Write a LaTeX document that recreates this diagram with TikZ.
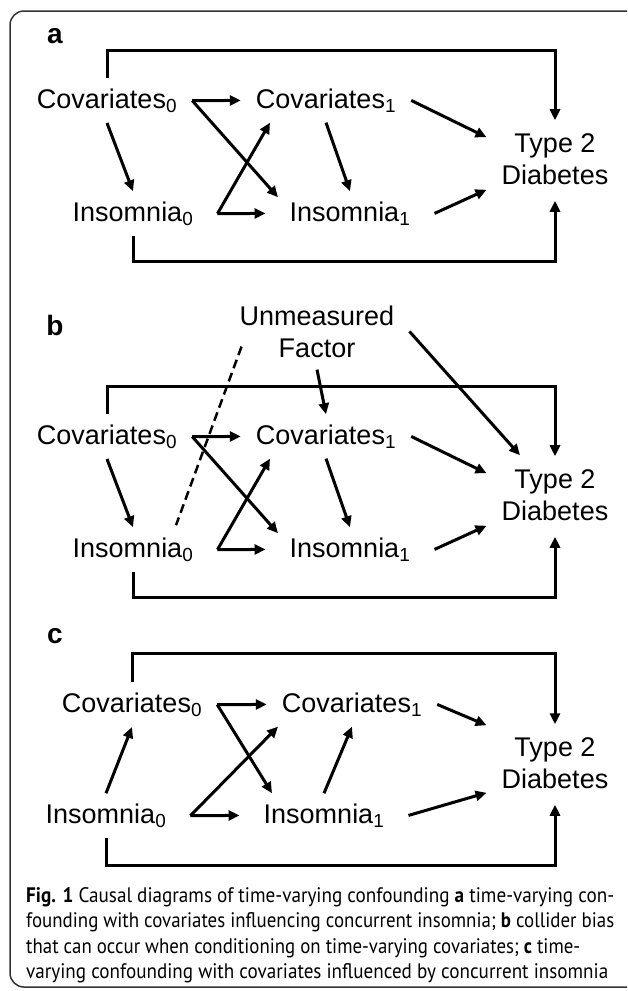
\documentclass[tikz,border=0pt]{standalone}
\usepackage{fontspec}
\setmainfont{Liberation Sans}
\newfontfamily\capfont{PT Sans}
\usepackage{graphicx}
\usetikzlibrary{calc}
\usetikzlibrary{arrows.meta}

\begin{document}
\begin{tikzpicture}[x=1pt,y=-1pt,
		lbl/.style={font=\fontsize{27}{32}\selectfont, inner xsep=15pt, inner ysep=10pt, anchor=base},
		ins/.style={lbl, inner xsep=24pt},
		outc/.style={font=\fontsize{27}{32}\selectfont, align=center, inner xsep=15pt, inner ysep=0pt},
		panel/.style={font=\fontsize{28}{28}\selectfont\bfseries, anchor=base, inner sep=0pt},
		arr/.style={line width=3pt, -{Triangle[length=11pt,width=10pt]}},
		capline/.style={anchor=base west, inner sep=0pt, font=\capfont\fontsize{21}{25}\selectfont}]
			\useasboundingbox (0,0) rectangle (627,991);
			\clip (0,0) rectangle (627,991);
			\draw[line width=1.5pt, black!80, rounded corners=14pt] (10,11) rectangle (660,987);

			% a
			\node[panel] (pa) at (55,43) {a};
			\node[lbl] (cov0a) at (107,108) {Covariates\textsubscript{0}};
			\node[lbl] (cov1a) at (326,108) {Covariates\textsubscript{1}};
			\node[ins] (ins0a) at (133,221) {Insomnia\textsubscript{0}};
			\node[ins] (ins1a) at (350,221) {Insomnia\textsubscript{1}};
			\node[outc] (t2da) at (555,159) {Type 2\\Diabetes};

			\draw[arr, shorten >=13pt] (cov0a.north) -- ++(0,-28) -| (t2da.north);
			\draw[arr, shorten >=16pt] (ins0a.south) -- ++(0,25) -| (t2da.south);
			\draw[arr] (cov0a.east) -- (cov1a.west);
			\draw[arr] (cov0a.east) -- ($(ins1a.north)+(-72,6)$);
			\draw[arr] (cov0a.south) -- (ins0a.north);
			\draw[arr] (ins0a.east) -- ($(cov1a.south)+(-56,0)$);
			\draw[arr] (ins0a.east) -- (ins1a.west);
			\draw[arr] (cov1a.south) -- (ins1a.north);
			\draw[arr] (cov1a.east) -- ($(t2da.north west)+(0,4)$);
			\draw[arr] (ins1a.east) -- ($(t2da.south west)+(0,5)$);

			% b
			\node[panel] (pb) at (55,335) {b};
			\node[outc, inner ysep=12pt] (unm) at (317,331.5) {Unmeasured\\Factor};
			\node[lbl] (cov0b) at (107,444) {Covariates\textsubscript{0}};
			\node[lbl] (cov1b) at (326,444) {Covariates\textsubscript{1}};
			\node[ins] (ins0b) at (133,557) {Insomnia\textsubscript{0}};
			\node[ins] (ins1b) at (350,557) {Insomnia\textsubscript{1}};
			\node[outc] (t2db) at (555,495) {Type 2\\Diabetes};

			\draw[line width=2.5pt, dash pattern=on 9pt off 5pt] ($(unm.south west)+(17,-23)$) -- ($(ins0b.north)+(43,-2)$);
			\draw[arr] (unm.south) -- (cov1b.north);
			\draw[arr] (unm.east) -- ($(t2db.north)+(-35,-14)$);
			\draw[arr, shorten >=13pt] (cov0b.north) -- ++(0,-28) -| (t2db.north);
			\draw[arr, shorten >=16pt] (ins0b.south) -- ++(0,25) -| (t2db.south);
			\draw[arr] (cov0b.east) -- (cov1b.west);
			\draw[arr] (cov0b.east) -- ($(ins1b.north)+(-72,6)$);
			\draw[arr] (cov0b.south) -- (ins0b.north);
			\draw[arr] (ins0b.east) -- ($(cov1b.south)+(-56,0)$);
			\draw[arr] (ins0b.east) -- (ins1b.west);
			\draw[arr] (cov1b.south) -- (ins1b.north);
			\draw[arr] (cov1b.east) -- ($(t2db.north west)+(0,4)$);
			\draw[arr] (ins1b.east) -- ($(t2db.south west)+(0,5)$);

			% c
			\node[panel] (pc) at (55,643) {c};
			\node[lbl] (cov0c) at (132,712) {Covariates\textsubscript{0}};
			\node[lbl] (cov1c) at (352,712) {Covariates\textsubscript{1}};
			\node[ins] (ins0c) at (106,823) {Insomnia\textsubscript{0}};
			\node[ins] (ins1c) at (324,823) {Insomnia\textsubscript{1}};
			\node[outc] (t2dc) at (555,763) {Type 2\\Diabetes};

			\draw[arr, shorten >=13pt] (cov0c.north) -- ++(0,-29) -| (t2dc.north);
			\draw[arr, shorten >=16pt] (ins0c.south) -- ++(0,27) -| (t2dc.south);
			\draw[arr] (cov0c.east) -- (cov1c.west);
			\draw[arr] (cov0c.east) -- ($(ins1c.north)+(-52,0)$);
			\draw[arr] (ins0c.north) -- (cov0c.south);
			\draw[arr] (ins0c.east) -- ($(cov1c.south)+(-74,0)$);
			\draw[arr] (ins0c.east) -- (ins1c.west);
			\draw[arr] (ins1c.north) -- (cov1c.south);
			\draw[arr] (cov1c.east) -- ($(t2dc.north west)+(0,-12)$);
			\draw[arr] (ins1c.east) -- ($(t2dc.south west)+(0,4)$);

			% caption
			\node[capline] (cap1) at (26,902) {\resizebox{588pt}{\height}{\textbf{Fig. 1} Causal diagrams of time-varying confounding \textbf{a} time-varying con-}};
			\node[capline] (cap2) at (26,927) {\resizebox{588pt}{\height}{founding with covariates influencing concurrent insomnia; \textbf{b} collider bias}};
			\node[capline] (cap3) at (26,953) {\resizebox{554pt}{\height}{that can occur when conditioning on time-varying covariates; \textbf{c} time-}};
			\node[capline] (cap4) at (26,978) {\resizebox{582pt}{\height}{varying confounding with covariates influenced by concurrent insomnia}};
		\end{tikzpicture}
\end{document}
